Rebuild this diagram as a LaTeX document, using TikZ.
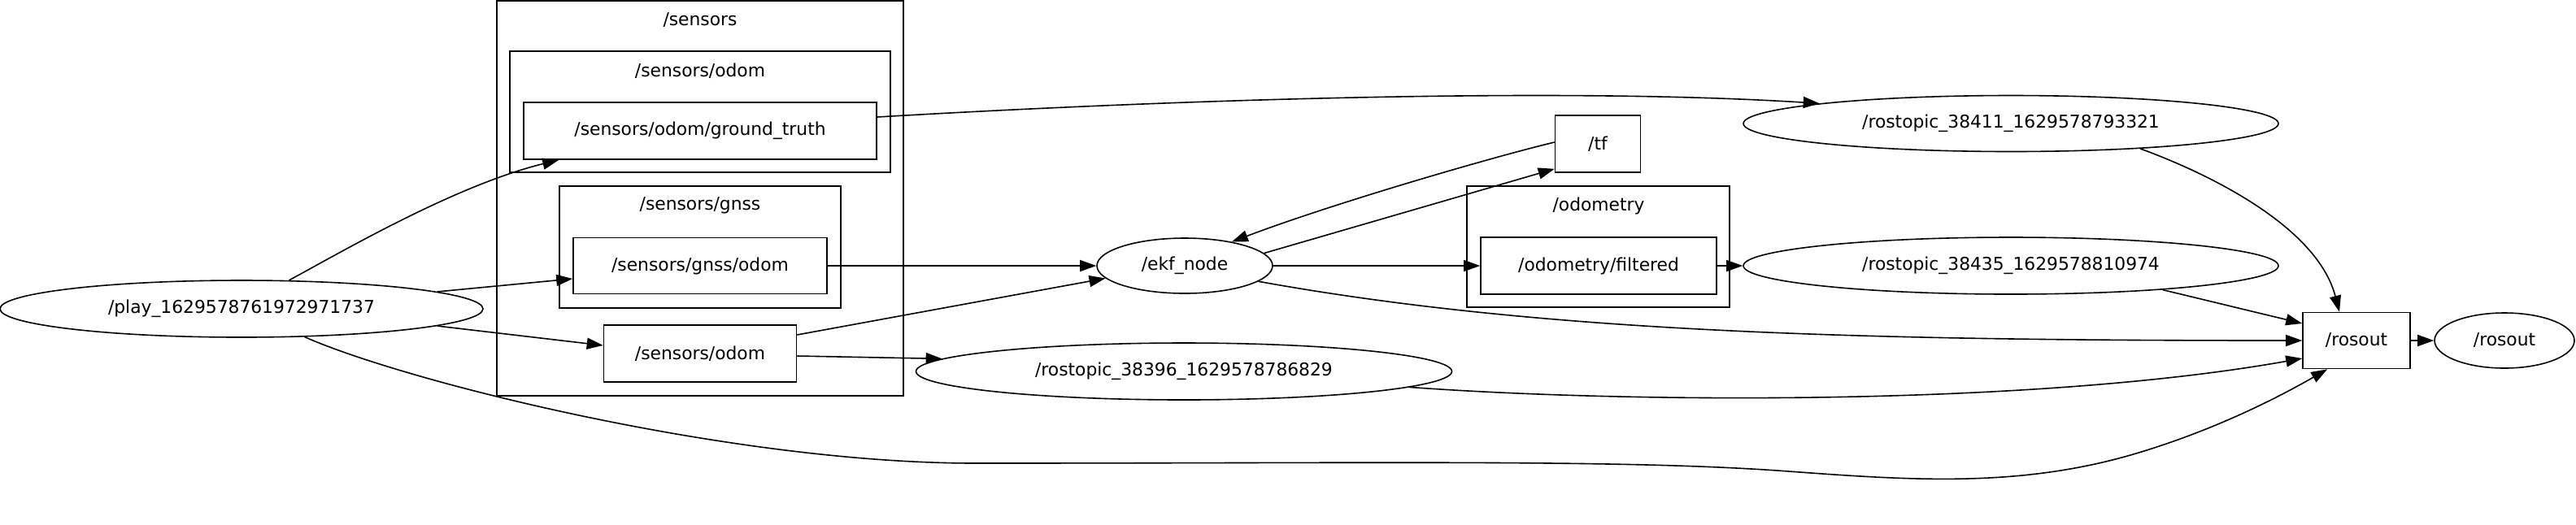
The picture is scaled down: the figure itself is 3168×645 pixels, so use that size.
\documentclass[tikz,border=0pt]{standalone}
\usepackage{fontspec}
\setmainfont{DejaVu Sans}
\usetikzlibrary{arrows.meta,calc,shapes.geometric}
\begin{document}
\begin{tikzpicture}[x=0.5pt,y=-0.5pt,
  every node/.style={font=\fontsize{10.9}{13}\selectfont, inner sep=0pt, line width=0.8pt},
  topic/.style={draw, rectangle},
  proc/.style={draw, ellipse},
  cluster/.style={draw, rectangle},
  clabel/.style={},
  arr/.style={line width=0.8pt, -{Triangle[length=10pt,width=7pt]}}]
\useasboundingbox (0,0) rectangle (3168,645);
% clusters
\node[cluster, minimum width=250pt, minimum height=243pt] (sensorsC) at (861,244) {};
\node[clabel] (sensorsL) at (861,25) {/sensors};
\node[cluster, minimum width=234pt, minimum height=74.5pt] (sodomC) at (861,137.5) {};
\node[clabel] (sodomL) at (861,87) {/sensors/odom};
\node[cluster, minimum width=173pt, minimum height=75pt] (gnssC) at (861,304) {};
\node[clabel] (gnssL) at (861,253) {/sensors/gnss};
\node[cluster, minimum width=161.5pt, minimum height=74.5pt] (odomC) at (1965.5,303.5) {};
\node[clabel] (odomL) at (1966,253) {/odometry};
% nodes
\node[proc, minimum width=297pt, minimum height=35pt] (play) at (297,380) {/play\_1629578761972971737};
\node[topic, minimum width=217pt, minimum height=35pt] (gt) at (861,161) {/sensors/odom/ground\_truth};
\node[topic, minimum width=156pt, minimum height=34.5pt] (gnssodom) at (861,327) {/sensors/gnss/odom};
\node[topic, minimum width=118.5pt, minimum height=35pt] (sodom) at (861,435) {/sensors/odom};
\node[proc, minimum width=108pt, minimum height=34pt] (ekf) at (1457,327) {/ekf\_node};
\node[proc, minimum width=329.5pt, minimum height=35pt] (r38396) at (1456,457) {/rostopic\_38396\_1629578786829};
\node[topic, minimum width=52.5pt, minimum height=35pt] (tf) at (1965,177) {/tf};
\node[topic, minimum width=145pt, minimum height=35pt] (filtered) at (1966,327) {/odometry/filtered};
\node[proc, minimum width=329pt, minimum height=34.5pt] (r38411) at (2473,152) {/rostopic\_38411\_1629578793321};
\node[proc, minimum width=329pt, minimum height=35pt] (r38435) at (2473,327) {/rostopic\_38435\_1629578810974};
\node[topic, minimum width=66pt, minimum height=34.5pt] (rosoutbox) at (2898,419) {/rosout};
\node[proc, minimum width=86pt, minimum height=34pt] (rosoutell) at (3080,419) {/rosout};
% edges
\draw[arr] (play.31) .. controls (420,310) and (560,228) .. ($(gt.south west)+(44,0)$);
\draw[arr] (play.5.4) -- ($(gnssodom.west)+(0,16)$);
\draw[arr] (play.-5.4) -- ($(sodom.west)+(0,-10)$);
\draw[arr] (play.-24.5) .. controls (500,470) and (900,570) .. (1200,570)
  .. controls (1700,570) and (2000,565) .. (2200,580)
  .. controls (2350,591) and (2480,600) .. (2620,560)
  .. controls (2720,531) and (2800,490) .. ($(rosoutbox.south west)+(31,0)$);
\draw[arr] ($(gt.east)+(0,-17)$) .. controls (1400,125) and (1900,106) .. (r38411.174);
\draw[arr] (gnssodom.east) -- (ekf.west);
\draw[arr] ($(sodom.east)+(0,-23)$) -- (ekf.189.6);
\draw[arr] ($(sodom.east)+(0,3)$) -- (r38396.177.8);
\draw[arr] ($(tf.west)+(0,-2)$) .. controls (1840,192) and (1640,250) .. (ekf.27);
\draw[arr] (ekf.9.2) -- ($(tf.south west)+(0,-5)$);
\draw[arr] (ekf.east) -- (filtered.west);
\draw[arr] (ekf.-12.5) .. controls (1900,410) and (2300,419) .. (rosoutbox.west);
\draw[arr] (filtered.east) -- (r38435.west);
\draw[arr] (r38411.-11.5) .. controls (2720,215) and (2850,280) .. ($(rosoutbox.north)+(-21,0)$);
\draw[arr] (r38435.-9.7) -- ($(rosoutbox.west)+(0,-21)$);
\draw[arr] (r38396.-4.2) .. controls (2000,496) and (2500,500) .. ($(rosoutbox.west)+(0,22)$);
\draw[arr] (rosoutbox.east) -- (rosoutell.west);
\end{tikzpicture}
\end{document}
